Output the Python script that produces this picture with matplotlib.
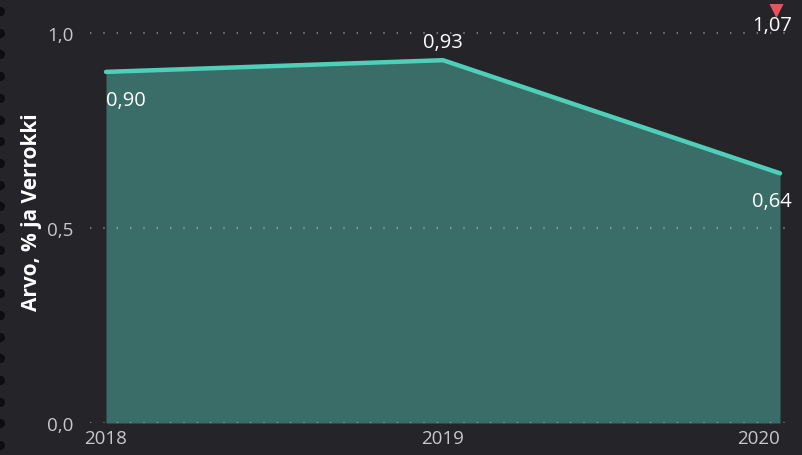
import numpy as np
import matplotlib.pyplot as plt

# chart data
years = [2018, 2019, 2020]
arvo = [0.90, 0.93, 0.64]
arvo_labels = ["0,90", "0,93", "0,64"]
verrokki_year = 2020
verrokki = 1.07
verrokki_label = "1,07"
y_ticks = [0.0, 0.5, 1.0]
y_tick_labels = ["0,0", "0,5", "1,0"]

bg = "#252429"
fill_col = "#3a6d68"
line_col = "#4fcfb9"
text_col = "#ffffff"
tick_col = "#c8c8c8"

plt.rcParams['font.family'] = ['Open Sans', 'DejaVu Sans']

W, H = 803, 456
fig = plt.figure(figsize=(W / 100, H / 100), dpi=100, facecolor=bg)
ax = fig.add_axes([90 / W, (H - 424) / H, (795 - 90) / W, (424 - 5) / H])
ax.set_facecolor(bg)

# area + line
ax.fill_between(years, arvo, 0, color=fill_col, lw=0, zorder=1)
ax.plot(years, arvo, color=line_col, lw=3.2, solid_capstyle='round', zorder=3)

# gridlines drawn on top of the area
for t in y_ticks:
    ax.axhline(t, color="#b8c4c4", lw=1.6, ls=(0, (0.6, 5.4)), alpha=0.55, zorder=2)

# verrokki marker (clipped at top)
ax.plot([verrokki_year - 0.012], [verrokki], marker='v', ms=15, color="#e8545e",
        lw=0, zorder=4)
ax.annotate(verrokki_label, (verrokki_year, verrokki), xytext=(-6, -14),
            textcoords='offset points', ha='center', va='center',
            color=text_col, fontsize=14.5, annotation_clip=False, zorder=5)

# data labels
offsets = [(0, -20), (0, 13), (-6, -20)]
aligns = ['left', 'center', 'center']
for x, y, lab, off, ha in zip(years, arvo, arvo_labels, offsets, aligns):
    ax.annotate(lab, (x, y), xytext=off, textcoords='offset points',
                ha=ha, va='center', color=text_col, fontsize=14.5)

ax.set_xlim(2018 - 0.0475, 2020 + 0.0445)
ax.set_ylim(0, 1.074)
ax.set_yticks(y_ticks)
ax.set_yticklabels(y_tick_labels)
ax.set_xticks(years)
ax.set_xticklabels([str(y) for y in years])
ax.tick_params(axis='both', length=0, colors=tick_col, labelsize=13.5)
ax.tick_params(axis='y', pad=12)
ax.tick_params(axis='x', pad=4)
xl = ax.get_xticklabels()
xl[-1].set_horizontalalignment('right')
xl[-1].set_x(2020.05)
for s in ax.spines.values():
    s.set_visible(False)

ax.set_ylabel("Arvo, % ja Verrokki", color=text_col, fontsize=15, fontweight='bold')
ax.yaxis.set_label_coords(-0.068, 0.505)

# decorative dots on the left edge
dax = fig.add_axes([0, 0, 8 / W, 1])
dax.set_axis_off()
dax.set_xlim(0, 8)
dax.set_ylim(H, 0)
dot_y = np.arange(12, H, 21.7)
dax.scatter(np.zeros_like(dot_y), dot_y, s=30, color="#0e0e10", clip_on=True)

fig.savefig("out.png", dpi=100, facecolor=bg)
